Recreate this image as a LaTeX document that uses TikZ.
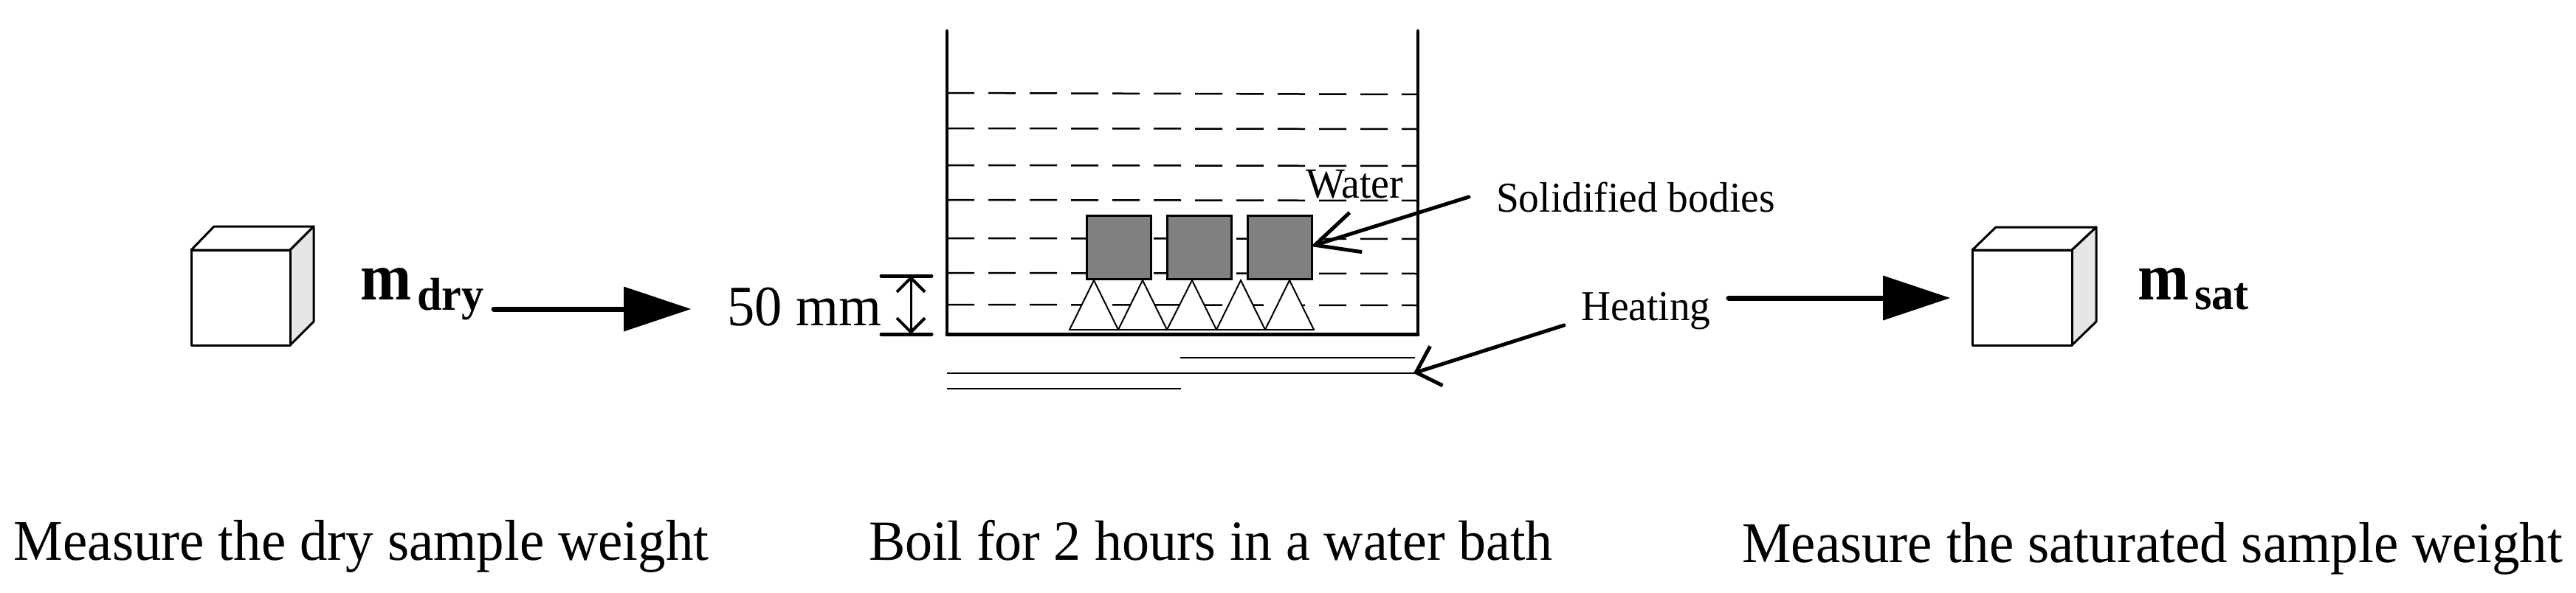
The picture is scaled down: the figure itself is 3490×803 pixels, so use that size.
\documentclass[tikz,border=0pt]{standalone}
\usepackage{fontspec}
\usepackage{graphicx}
\setmainfont{Liberation Serif}
\usetikzlibrary{arrows.meta}
\newcommand{\fs}[1]{\fontsize{#1}{#1}\selectfont}
\newcommand{\tall}[1]{\scalebox{1}[1.04]{#1}}
\newcommand{\taller}[1]{\scalebox{1}[1.10]{#1}}
\tikzset{
  every node/.style={inner sep=0pt,outer sep=0pt,anchor=base west},
  big/.style={font=\fs{75}},
  small/.style={font=\fs{55.5}},
  boldm/.style={font=\fs{83}\bfseries},
  boldsub/.style={font=\fs{60}\bfseries},
  cubeface/.style={draw=black,line width=3pt,line join=round,fill=white},
  cubeside/.style={draw=black,line width=3pt,line join=round,fill=sidegray},
  wall/.style={draw=black,line width=4.5pt,line cap=round,line join=round},
  floorline/.style={draw=black,line width=5pt,line cap=round},
  water/.style={draw=black,line width=2.5pt,dash pattern=on 37pt off 19pt},
  burner/.style={draw=black,line width=2.5pt},
  body/.style={draw=black,line width=3pt,fill=bodygray},
  support/.style={draw=black,line width=2pt,fill=white,line join=miter},
  bigarrow/.style={draw=black,line width=7pt,line cap=round,-{Triangle[length=91pt,width=61pt,line width=0pt]}},
  leader/.style={draw=black,line width=5pt,line cap=round,-{Straight Barb[length=58pt,width=56pt,line width=5pt]}},
  heatleader/.style={draw=black,line width=5pt,line cap=round,-{Straight Barb[length=29pt,width=56pt,line width=5pt]}},
  dimline/.style={draw=black,line width=3pt,{Straight Barb[length=19pt,width=38pt,line width=4pt]}-{Straight Barb[length=19pt,width=38pt,line width=4pt]}},
  dimbar/.style={draw=black,line width=5pt,line cap=round},
}
\definecolor{sidegray}{HTML}{E6E6E6}
\definecolor{bodygray}{HTML}{808080}
\begin{document}
\begin{tikzpicture}[x=1pt,y=-1pt]
\useasboundingbox (0,0) rectangle (3490,803);
% left cube
\draw[cubeface] (259,339) -- (290,307) -- (425,307) -- (393,339) -- cycle;
\draw[cubeside] (393,339) -- (425,307) -- (425,436) -- (393,468) -- cycle;
\draw[cubeface] (259,339) rectangle (393,468);
\node[boldm] (mdry) at (488,406) {\taller{m}};
\node[boldsub] (mdrysub) at (565,420) {\tall{dry}};
% right cube
\draw[cubeface] (2672,339) -- (2704,308) -- (2840,308) -- (2807,339) -- cycle;
\draw[cubeside] (2807,339) -- (2840,308) -- (2840,436) -- (2807,468) -- cycle;
\draw[cubeface] (2672,339) rectangle (2807,468);
\node[boldm] (msat) at (2896,406) {\taller{m}};
\node[boldsub] (msatsub) at (2973,419) {\tall{sat}};
% big arrows
\coordinate (a1s) at (669,419);
\coordinate (a1e) at (936,419);
\draw[bigarrow] (a1s) -- (a1e);
\coordinate (a2s) at (2342,404);
\coordinate (a2e) at (2642,404);
\draw[bigarrow] (a2s) -- (a2e);
% water
\foreach \yl/\yr in {126/128,174/175,224/225,271/272,323/324,370/371,413/414}
  \draw[water] (1283,\yl) -- (1920,\yr);
% supports
\foreach \a/\b/\c in {1449/1482/1515,1515/1548/1581,1581/1615/1648,1648/1681/1714,1714/1747/1780}
  \draw[support] (\a,447) -- (\b,380) -- (\c,447) -- cycle;
% bodies
\node[body,minimum width=87pt,minimum height=86pt,anchor=north west] (b1) at (1472,292) {};
\node[body,minimum width=87pt,minimum height=86pt,anchor=north west] (b2) at (1581,292) {};
\node[body,minimum width=87pt,minimum height=86pt,anchor=north west] (b3) at (1690,292) {};
% tank
\draw[wall] (1283,42) -- (1283,454) -- (1921,454) -- (1921,42);
\draw[floorline] (1283,453.5) -- (1921,453.5);
% burner
\draw[burner] (1599,485) -- (1917,485);
\draw[burner] (1283,506) -- (1917,506);
\draw[burner] (1283,527) -- (1600,527);
% dimension
\coordinate (d1) at (1234,374);
\coordinate (d2) at (1234,453);
\draw[dimbar] (1194,374) -- (1262,374);
\draw[dimbar] (1194,453) -- (1262,453);
\draw[dimline] (d1) -- (d2);
\node[font=\fs{74.5}] (dim) at (985,441) {\tall{50 mm}};
% labels
\node[font=\fs{56}] (water) at (1769,268) {\tall{Water}};
\node[small] (solid) at (2027,287) {\tall{Solidified bodies}};
\node[small] (heat) at (2142,434) {\tall{Heating}};
\coordinate (s1) at (1990,267);
\coordinate (s2) at (1776,334);
\draw[leader] (s1) -- (s2);
\coordinate (h1) at (2119,441);
\coordinate (h2) at (1915,506);
\draw[heatleader] (h1) -- (h2);
% captions
\node[big] (c1) at (19,759) {\tall{Measure the dry sample weight}};
\node[font=\fs{74}] (c2) at (1177,759) {\tall{Boil for 2 hours in a water bath}};
\node[big] (c3) at (2360,762) {\tall{Measure the saturated sample weight}};
\end{tikzpicture}
\end{document}
